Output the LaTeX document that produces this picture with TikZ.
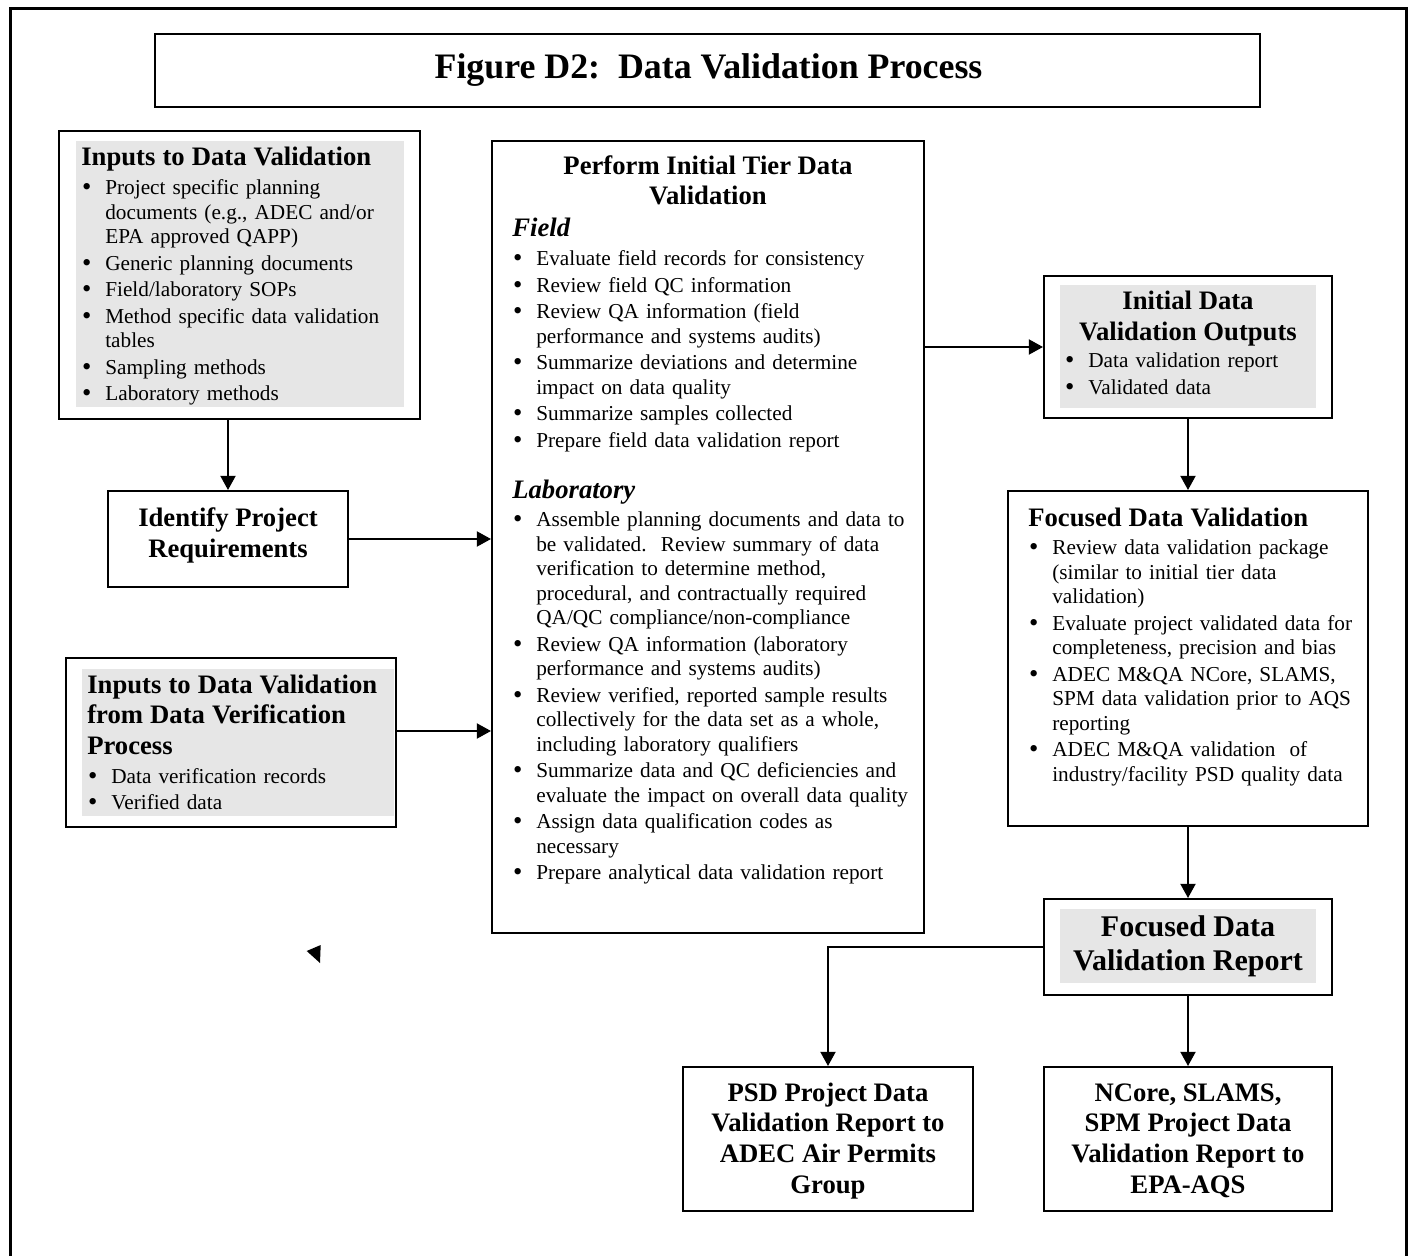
\documentclass[tikz,border=0pt]{standalone}
\usepackage{fontspec}
\setmainfont{Liberation Serif}
\usetikzlibrary{arrows.meta, fit}

\definecolor{boxgray}{RGB}{230,230,230}
\newcommand{\bodysize}{\fontsize{12.75}{14.7}\selectfont}
\newcommand{\headsize}{\fontsize{16}{18.4}\selectfont\bfseries}
\newcommand{\listhead}[1]{{\headsize #1\par}\vspace{2.5pt}}
\newcommand{\bitem}[1]{\hangindent=14.4pt\hangafter=1\noindent\makebox[14.4pt][l]{\hspace{0.5pt}\raisebox{-0.6pt}{\fontsize{16}{16}\selectfont\textbullet}}#1\par\vspace{1.2pt}}

\begin{document}
\begin{tikzpicture}[x=0.6pt, y=-0.6pt,
    panel/.style={draw, line width=1.2pt, inner sep=0pt},
    graybg/.style={fill=boxgray, draw=none, inner sep=0pt},
    headtext/.style={font=\headsize, align=center, inner sep=0pt, anchor=base},
    itemtext/.style={font=\bodysize, text width=#1, align=left, inner sep=0pt, anchor=base west},
    flow/.style={line width=1.2pt, arrows={-Triangle[length=8.5pt, width=9pt]}}]
    \useasboundingbox (0,0) rectangle (1411,1256);

    % Frame and title
    \draw[line width=1.8pt] (10,1256) |- (1406,9) -- (1406,1256);
    \node[panel, fit={(155,34) (1260,107)}] (titlebox) {};
    \node[font=\fontsize{21.5}{24}\selectfont\bfseries, inner sep=0pt, anchor=base] (title) at (708.5,79) {Figure D2:\ \ Data Validation Process};

    % Gray backgrounds
    \node[graybg, fit={(76,141) (404,407)}] (inputsbg) {};
    \node[graybg, fit={(82,669) (394,816)}] (verifbg) {};
    \node[graybg, fit={(1060,285) (1316,408)}] (initialbg) {};
    \node[graybg, fit={(1060,909) (1316,983)}] (reportbg) {};

    % Boxes
    \node[panel, fit={(59,131) (420,419)}] (inputs) {};
    \node[panel, fit={(108,491) (348,587)}] (identify) {};
    \node[panel, fit={(66,658) (396,827)}] (verif) {};
    \node[panel, fit={(492,141) (924,933)}] (perform) {};
    \node[panel, fit={(1044,276) (1332,418)}] (initial) {};
    \node[panel, fit={(1008,491) (1368,826)}] (focused) {};
    \node[panel, fit={(1044,899) (1332,995)}] (report) {};
    \node[panel, fit={(683,1067) (973,1211)}] (psd) {};
    \node[panel, fit={(1044,1067) (1332,1211)}] (ncore) {};

    % Texts
    \node[itemtext=210pt] (inputstext) at (81,166) {\listhead{Inputs to Data Validation}
        \bitem{Project specific planning\newline documents (e.g., ADEC and/or\newline EPA approved QAPP)}
        \bitem{Generic planning documents}
        \bitem{Field/laboratory SOPs}
        \bitem{Method specific data validation\newline tables}
        \bitem{Sampling methods}
        \bitem{Laboratory methods}};
    \node[headtext] (identifytext) at (228,557) {Identify Project\\Requirements};
    \node[itemtext=200pt] (veriftext) at (87,693) {\listhead{Inputs to Data Validation\newline from Data Verification\newline Process}
        \bitem{Data verification records}
        \bitem{Verified data}};
    \node[headtext] (performhead) at (708,205) {Perform Initial Tier Data\\Validation};
    \node[itemtext=250pt] (performtext) at (512,237) {\listhead{\itshape Field}
        \bitem{Evaluate field records for consistency}
        \bitem{Review field QC information}
        \bitem{Review QA information (field\newline performance and systems audits)}
        \bitem{Summarize deviations and determine\newline impact on data quality}
        \bitem{Summarize samples collected}
        \bitem{Prepare field data validation report}
        \vspace{11pt}\listhead{\itshape Laboratory}
        \bitem{Assemble planning documents and data to\newline be validated.\ \ Review summary of data\newline verification to determine method,\newline procedural, and contractually required\newline QA/QC compliance/non-compliance}
        \bitem{Review QA information (laboratory\newline performance and systems audits)}
        \bitem{Review verified, reported sample results\newline collectively for the data set as a whole,\newline including laboratory qualifiers}
        \bitem{Summarize data and QC deficiencies and\newline evaluate the impact on overall data quality}
        \bitem{Assign data qualification codes as\newline necessary}
        \bitem{Prepare analytical data validation report}};
    \node[headtext] (initialhead) at (1188,340) {Initial Data\\Validation Outputs};
    \node[itemtext=160pt] (initialtext) at (1064,368) {\bitem{Data validation report}
        \bitem{Validated data}};
    \node[itemtext=210pt] (focusedtext) at (1028,526) {\listhead{Focused Data Validation}
        \bitem{Review data validation package\newline (similar to initial tier data\newline validation)}
        \bitem{Evaluate project validated data for\newline completeness, precision and bias}
        \bitem{ADEC M\&QA NCore, SLAMS,\newline SPM data validation prior to AQS\newline reporting}
        \bitem{ADEC M\&QA validation\ \ of\newline industry/facility PSD quality data}};
    \node[headtext, font=\fontsize{18}{20.4}\selectfont\bfseries] (reporttext) at (1188,970) {Focused Data\\Validation Report};
    \node[headtext] (psdtext) at (828,1193) {PSD Project Data\\Validation Report to\\ADEC Air Permits\\Group};
    \node[headtext] (ncoretext) at (1188,1193) {NCore, SLAMS,\\SPM Project Data\\Validation Report to\\EPA-AQS};

    % Connections
    \draw[flow] (inputs.south -| identify.north) -- (identify.north);
    \draw[flow] (identify.east) -- (identify.east -| perform.west);
    \draw[flow] ([yshift=6.9pt]verif.east) -- ([yshift=6.9pt]verif.east -| perform.west);
    \draw[flow] (initial.west -| perform.east) -- (initial.west);
    \draw[flow] (initial.south) -- (focused.north);
    \draw[flow] (focused.south) -- (report.north);
    \draw[flow] (report.south) -- (ncore.north);
    \draw[flow] (report.west) -| (psd.north);
    \fill (306.7,951) -- (320.7,945) -- (320,963) -- cycle;
\end{tikzpicture}
\end{document}
